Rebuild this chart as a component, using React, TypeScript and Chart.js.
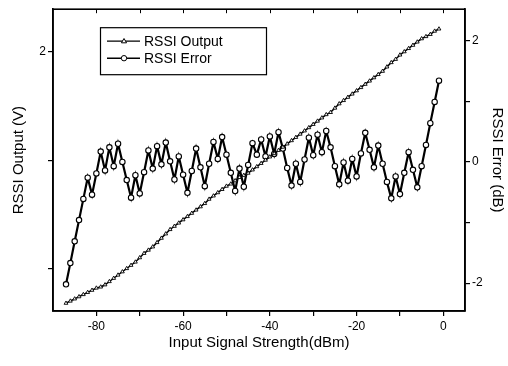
import React, { useEffect, useRef } from "react";
import { Chart, registerables } from "chart.js";

Chart.register(...registerables);

const inputDbm = [
  -87, -86, -85, -84, -83, -82, -81, -80, -79, -78,
  -77, -76, -75, -74, -73, -72, -71, -70, -69, -68,
  -67, -66, -65, -64, -63, -62, -61, -60, -59, -58,
  -57, -56, -55, -54, -53, -52, -51, -50, -49, -48,
  -47, -46, -45, -44, -43, -42, -41, -40, -39, -38,
  -37, -36, -35, -34, -33, -32, -31, -30, -29, -28,
  -27, -26, -25, -24, -23, -22, -21, -20, -19, -18,
  -17, -16, -15, -14, -13, -12, -11, -10, -9, -8,
  -7, -6, -5, -4, -3, -2, -1,
];

const rssiOutput = [
  0.84, 0.85, 0.86, 0.87, 0.88, 0.89, 0.9, 0.91, 0.915, 0.925,
  0.94, 0.955, 0.97, 0.985, 1.0, 1.015, 1.03, 1.05, 1.07, 1.085,
  1.1, 1.12, 1.14, 1.16, 1.18, 1.195, 1.21, 1.225, 1.24, 1.255,
  1.27, 1.285, 1.3, 1.32, 1.335, 1.35, 1.365, 1.38, 1.39, 1.405,
  1.42, 1.43, 1.44, 1.455, 1.47, 1.485, 1.5, 1.515, 1.53, 1.545,
  1.56, 1.575, 1.59, 1.605, 1.62, 1.635, 1.65, 1.665, 1.68, 1.695,
  1.71, 1.72, 1.74, 1.76, 1.775, 1.79, 1.805, 1.82, 1.835, 1.85,
  1.865, 1.88, 1.895, 1.91, 1.93, 1.95, 1.965, 1.985, 2.0, 2.015,
  2.03, 2.045, 2.06, 2.07, 2.08, 2.095, 2.105,
];

const rssiError = [
  -2.02, -1.67, -1.31, -0.96, -0.61, -0.26, -0.54, -0.19, 0.17, -0.14,
  0.24, -0.07, 0.3, 0.0, -0.3, -0.59, -0.22, -0.52, -0.17, 0.19,
  -0.11, 0.26, -0.04, 0.32, 0.01, -0.29, 0.09, -0.21, -0.51, -0.15,
  0.22, -0.09, -0.4, -0.03, 0.33, 0.05, 0.41, 0.12, -0.18, -0.48,
  -0.11, -0.41, -0.05, 0.31, 0.12, 0.37, 0.09, 0.42, 0.13, 0.49,
  0.22, -0.1, -0.39, -0.03, -0.33, 0.04, 0.4, 0.11, 0.45, 0.16,
  0.51, 0.24, -0.07, -0.37, -0.01, -0.31, 0.05, -0.24, 0.14, 0.48,
  0.2, -0.09, 0.27, -0.03, -0.33, -0.6, -0.24, -0.53, -0.18, 0.16,
  -0.13, -0.42, -0.07, 0.28, 0.64, 0.99, 1.34,
];

const xTickValues = [-80, -70, -60, -50, -40, -30, -20, -10, 0];
const xTickLabels = ["-80", "", "-60", "", "-40", "", "-20", "", "0"];
const leftTickValues = [1, 1.5, 2];
const leftTickLabels = ["", "", "2"];
const rightTickValues = [-2, -1, 0, 1, 2];
const rightTickLabels = ["-2", "", "0", "", "2"];

const seriesNames = ["RSSI Output", "RSSI Error"];
const axisTitles = ["Input Signal Strength(dBm)", "RSSI Output (V)", "RSSI Error (dB)"];

const FAMILY = "'Liberation Sans', Arial, sans-serif";

function labelFrom(values: number[], labels: string[]) {
  return (v: any) => {
    const i = values.findIndex((t) => Math.abs(t - Number(v)) < 1e-6);
    return i >= 0 ? labels[i] : "";
  };
}

function drawMarker(ctx: CanvasRenderingContext2D, style: string, x: number, y: number, r: number) {
  ctx.beginPath();
  if (style === "triangle") {
    ctx.moveTo(x, y - r);
    ctx.lineTo(x + r * 0.95, y + r * 0.6);
    ctx.lineTo(x - r * 0.95, y + r * 0.6);
    ctx.closePath();
  } else {
    ctx.arc(x, y, r, 0, Math.PI * 2);
  }
  ctx.fillStyle = "#fff";
  ctx.fill();
  ctx.stroke();
}

export default function App() {
  const ref = useRef<HTMLCanvasElement>(null);

  useEffect(() => {
    document.body.style.margin = "0";
    const canvas = ref.current!;
    const outputData = inputDbm.map((x, i) => ({ x, y: rssiOutput[i] }));
    const errorData = inputDbm.map((x, i) => ({ x, y: rssiError[i] }));

    const framePlugin = {
      id: "frameAndLegend",
      afterDraw(chart: any) {
        const { ctx, chartArea: a, scales } = chart;
        ctx.save();
        ctx.strokeStyle = "#000";
        ctx.lineWidth = 1.6;
        ctx.strokeRect(a.left, a.top, a.right - a.left, a.bottom - a.top);
        ctx.lineWidth = 1;
        xTickValues.forEach((v) => {
          const px = Math.round(scales.x.getPixelForValue(v)) + 0.5;
          ctx.beginPath();
          ctx.moveTo(px, a.top);
          ctx.lineTo(px, a.top + 4);
          ctx.stroke();
        });

        // legend box
        const bx = a.left + 47;
        const by = a.top + 18;
        const bw = 166;
        const bh = 47;
        ctx.lineWidth = 1.2;
        ctx.strokeRect(bx + 0.5, by + 0.5, bw, bh);
        const rows = [
          { y: by + 14, style: "triangle", lw: 1.2 },
          { y: by + 31, style: "circle", lw: 1.6 },
        ];
        ctx.font = `14px ${FAMILY}`;
        ctx.textBaseline = "middle";
        rows.forEach((r, i) => {
          ctx.lineWidth = r.lw;
          ctx.beginPath();
          ctx.moveTo(bx + 7, r.y);
          ctx.lineTo(bx + 40, r.y);
          ctx.stroke();
          ctx.lineWidth = 1;
          drawMarker(ctx, r.style, bx + 24, r.y, 2.7);
          ctx.fillStyle = "#000";
          ctx.fillText(seriesNames[i], bx + 44, r.y + 1);
        });
        ctx.restore();
      },
    };

    const chart = new Chart(canvas, {
      type: "line",
      data: {
        datasets: [
          {
            label: seriesNames[0],
            data: outputData,
            yAxisID: "y",
            borderColor: "#000",
            borderWidth: 1.5,
            pointStyle: "triangle",
            pointRadius: 2.2,
            pointBorderWidth: 0.9,
            pointBackgroundColor: "#fff",
            pointBorderColor: "#000",
            tension: 0,
          },
          {
            label: seriesNames[1],
            data: errorData,
            yAxisID: "y1",
            borderColor: "#000",
            borderWidth: 2.2,
            pointStyle: "circle",
            pointRadius: 2.7,
            pointBorderWidth: 1.1,
            pointBackgroundColor: "#fff",
            pointBorderColor: "#000",
            tension: 0,
          },
        ],
      },
      options: {
        responsive: false,
        animation: false,
        layout: { padding: { top: 6, left: 0, right: 0, bottom: 0 } },
        plugins: { legend: { display: false }, tooltip: { enabled: false } },
        scales: {
          x: {
            type: "linear",
            position: "bottom",
            min: -90,
            max: 5,
            afterBuildTicks: (s: any) => {
              s.ticks = xTickValues.map((v) => ({ value: v }));
            },
            afterFit: (s: any) => {
              s.height = 55;
            },
            ticks: {
              callback: labelFrom(xTickValues, xTickLabels),
              color: "#000",
              font: { size: 12, family: FAMILY },
              padding: 3,
              maxRotation: 0,
              autoSkip: false,
            },
            grid: { drawOnChartArea: false, tickLength: 5, color: "#000", lineWidth: 1.2 },
            border: { color: "#000", width: 1.6 },
            title: {
              display: true,
              text: axisTitles[0],
              color: "#000",
              font: { size: 15, family: FAMILY },
              padding: { top: 0, bottom: 14 },
            },
          },
          y: {
            type: "linear",
            position: "left",
            min: 0.804,
            max: 2.196,
            afterBuildTicks: (s: any) => {
              s.ticks = leftTickValues.map((v) => ({ value: v }));
            },
            afterFit: (s: any) => {
              s.width = 53;
            },
            ticks: {
              callback: labelFrom(leftTickValues, leftTickLabels),
              color: "#000",
              font: { size: 12, family: FAMILY },
              padding: 2,
            },
            grid: { drawOnChartArea: false, tickLength: 5, color: "#000", lineWidth: 1.2 },
            border: { color: "#000", width: 1.6 },
            title: {
              display: true,
              text: axisTitles[1],
              color: "#000",
              font: { size: 15, family: FAMILY },
              padding: { top: 10, bottom: 0 },
            },
          },
          y1: {
            type: "linear",
            position: "right",
            min: -2.46,
            max: 2.52,
            afterBuildTicks: (s: any) => {
              s.ticks = rightTickValues.map((v) => ({ value: v }));
            },
            afterFit: (s: any) => {
              s.width = 43;
            },
            ticks: {
              callback: labelFrom(rightTickValues, rightTickLabels),
              color: "#000",
              font: { size: 12, family: FAMILY },
              padding: 2,
            },
            grid: { drawOnChartArea: false, tickLength: 5, color: "#000", lineWidth: 1.2 },
            border: { color: "#000", width: 1.6 },
            title: {
              display: true,
              text: axisTitles[2],
              color: "#000",
              font: { size: 15, family: FAMILY },
              padding: { top: 2, bottom: 0 },
            },
          },
        },
      },
      plugins: [framePlugin],
    } as any);

    return () => chart.destroy();
  }, []);

  return (
    <div style={{ width: 508, height: 366, background: "#fff" }}>
      <canvas ref={ref} width={508} height={366} style={{ display: "block" }} />
    </div>
  );
}
